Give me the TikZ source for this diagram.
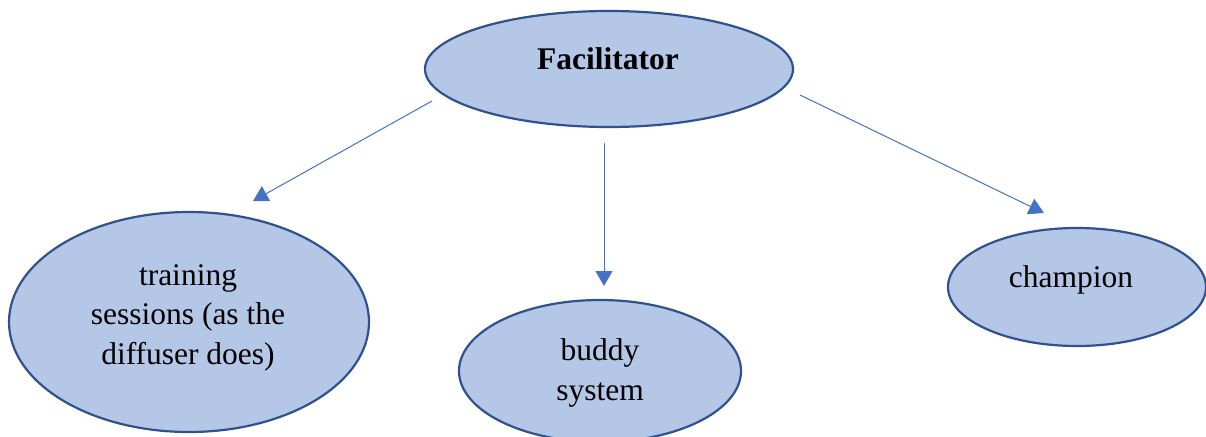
\documentclass[tikz,border=0pt]{standalone}
\usepackage{fontspec}
\setmainfont{Liberation Serif}
\usetikzlibrary{shapes.geometric,arrows.meta}
\definecolor{bubblefill}{HTML}{B4C7E7}
\definecolor{bubbleline}{HTML}{2F528F}
\definecolor{arrowblue}{HTML}{4472C4}
\begin{document}
\begin{tikzpicture}[x=1pt,y=-1pt,
  bubble/.style={ellipse,draw=bubbleline,fill=bubblefill,line width=2.2pt,inner sep=0pt},
  label/.style={anchor=base,inner sep=0pt,align=center,font=\fontsize{31.5}{39.5}\selectfont},
  link/.style={draw=arrowblue,line width=1pt,-{Triangle[length=15pt,width=17pt]}}]
  \clip (0,0) rectangle (1206,436);
  % ellipses
  \node[bubble,minimum width=368pt,minimum height=116pt] (fac) at (609,69) {};
  \node[bubble,minimum width=360pt,minimum height=220pt] (train) at (189,322) {};
  \node[bubble,minimum width=282pt,minimum height=142pt] (buddy) at (600,371) {};
  \node[bubble,minimum width=258pt,minimum height=118pt] (champ) at (1077,287) {};
  % texts (base = baseline of the last line)
  \node[label,font=\fontsize{31.5}{39.5}\selectfont\bfseries] (factext) at (608,69) {Facilitator};
  \node[label] (traintext) at (188,364) {training\\sessions (as the\\diffuser does)};
  \node[label] (buddytext) at (600,400) {buddy\\system};
  \node[label] (champtext) at (1071,287) {champion};
  % arrow ends
  \coordinate (s1) at (432,101);
  \coordinate (e1) at (253,201);
  \coordinate (s2) at (604,143);
  \coordinate (e2) at (604,286);
  \coordinate (s3) at (800,95);
  \coordinate (e3) at (1044,213);
  \draw[link] (s1) -- (e1);
  \draw[link] (s2) -- (e2);
  \draw[link] (s3) -- (e3);
\end{tikzpicture}
\end{document}
